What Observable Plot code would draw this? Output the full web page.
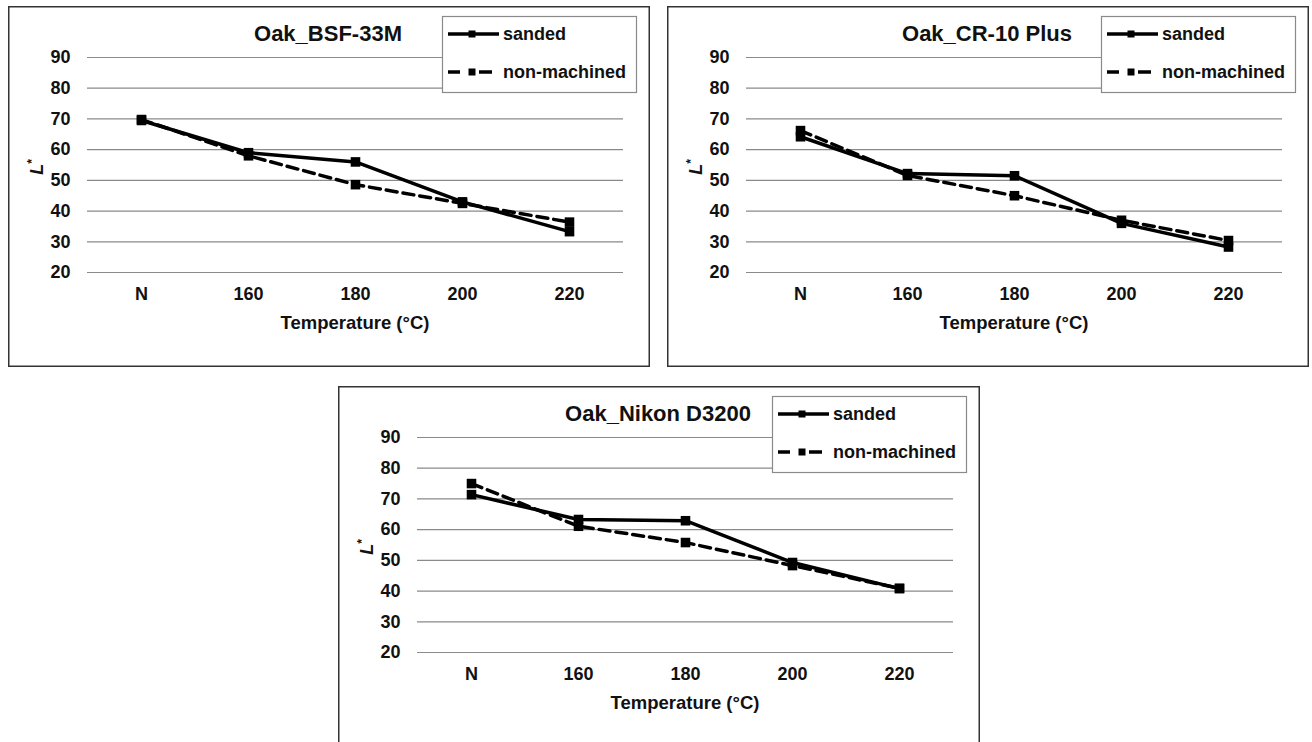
<!DOCTYPE html>
<html>
<head>
<meta charset="utf-8">
<script src="https://cdn.jsdelivr.net/npm/d3@7"></script>
<script src="https://cdn.jsdelivr.net/npm/@observablehq/plot@0.6"></script>
<style>
  body { margin: 0; background: #fff; }
  #page { position: relative; width: 1312px; height: 742px; overflow: hidden; background: #fff; }
  #page svg { position: absolute; }
</style>
</head>
<body>
<div id="page"></div>
<script>
// ---- Data ----
const categories = ["N", "160", "180", "200", "220"];
const yTicks = [20, 30, 40, 50, 60, 70, 80, 90];
const seriesNames = ["sanded", "non-machined"];

const bsfSanded = [69.5, 59.0, 56.0, 43.0, 33.3];
const bsfNon    = [69.8, 58.0, 48.6, 42.5, 36.4];

const crSanded  = [64.2, 52.2, 51.5, 36.0, 28.3];
const crNon     = [66.2, 51.6, 45.0, 37.0, 30.4];

const nikonSanded = [71.4, 63.3, 62.9, 49.3, 40.8];
const nikonNon    = [75.0, 61.1, 55.8, 48.3, 40.9];

const titles = ["Oak_BSF-33M", "Oak_CR-10 Plus", "Oak_Nikon D3200"];

// ---- Layout ----
const panels = [
  { title: titles[0], sanded: bsfSanded,   non: bsfNon,   left: 8,   top: 6 },
  { title: titles[1], sanded: crSanded,    non: crNon,    left: 667, top: 6 },
  { title: titles[2], sanded: nikonSanded, non: nikonNon, left: 338, top: 386 }
];

const FONT = "'Liberation Sans', Arial, Helvetica, sans-serif";
const W = 642, H = 361;
const page = document.getElementById("page");

for (const p of panels) {
  const data = categories.flatMap((c, i) => [
    { cat: c, value: p.sanded[i], series: seriesNames[0] },
    { cat: c, value: p.non[i], series: seriesNames[1] }
  ]);

  const svg = Plot.plot({
    width: W,
    height: H,
    marginLeft: 79,
    marginRight: 27,
    marginTop: 51,
    marginBottom: 95,
    style: { fontFamily: FONT, fontWeight: "bold", fontSize: "18px", color: "#111", background: "#fff", overflow: "visible" },
    x: { type: "point", domain: categories, padding: 0.5, label: null },
    y: { domain: [20, 90], label: null },
    marks: [
      Plot.ruleY(yTicks, { stroke: "#8a8a8a", strokeWidth: 1.2 }),
      Plot.axisX({ tickSize: 0, tickPadding: 15, fontSize: 18, fontWeight: "bold", label: null }),
      Plot.axisY({ ticks: yTicks, tickSize: 0, tickPadding: 17, fontSize: 18, fontWeight: "bold", label: null, tickFormat: d => String(d) }),
      Plot.line(data.filter(d => d.series === seriesNames[1]), { x: "cat", y: "value", stroke: "#000", strokeWidth: 3.5, strokeDasharray: "11,6" }),
      Plot.line(data.filter(d => d.series === seriesNames[0]), { x: "cat", y: "value", stroke: "#000", strokeWidth: 3.5 }),
      Plot.dot(data, { x: "cat", y: "value", symbol: "square", r: 5.4, fill: "#000", stroke: "none" })
    ]
  });

  svg.style.left = p.left + "px";
  svg.style.top = p.top + "px";

  const s = d3.select(svg);
  // panel border
  s.append("rect")
    .attr("x", 0.75).attr("y", 0.75)
    .attr("width", W - 1.5).attr("height", H - 1.5)
    .attr("fill", "none").attr("stroke", "#333").attr("stroke-width", 1.5);

  // title
  s.append("text")
    .attr("x", 320).attr("y", 27)
    .attr("text-anchor", "middle").attr("dominant-baseline", "central")
    .attr("font-size", 22).attr("font-weight", "bold").attr("fill", "#111")
    .text(p.title);

  // y label L*
  const yl = s.append("text")
    .attr("transform", "translate(29,161) rotate(-90)")
    .attr("text-anchor", "middle").attr("dominant-baseline", "central")
    .attr("font-size", 18).attr("font-weight", "bold").attr("fill", "#111");
  yl.append("tspan").attr("font-style", "italic").text("L");
  yl.append("tspan").attr("font-size", 12).attr("dy", -5).text("*");

  // x axis title
  s.append("text")
    .attr("x", 347).attr("y", 316)
    .attr("text-anchor", "middle").attr("dominant-baseline", "central")
    .attr("font-size", 18.5).attr("font-weight", "bold").attr("fill", "#111")
    .text("Temperature (°C)");

  // legend
  const lg = s.append("g").attr("text-anchor", "start");
  lg.append("rect")
    .attr("x", 434.5).attr("y", 10.5).attr("width", 194).attr("height", 76)
    .attr("fill", "#fff").attr("stroke", "#8a8a8a").attr("stroke-width", 1.2);
  // row 1: sanded
  lg.append("line").attr("x1", 440).attr("x2", 491).attr("y1", 28).attr("y2", 28)
    .attr("stroke", "#000").attr("stroke-width", 3.5);
  lg.append("rect").attr("x", 460.5).attr("y", 24.5).attr("width", 7).attr("height", 7).attr("fill", "#000");
  lg.append("text").attr("x", 495).attr("y", 28).attr("dominant-baseline", "central").attr("text-anchor", "start")
    .attr("font-size", 18).attr("font-weight", "bold").attr("fill", "#111").text(seriesNames[0]);
  // row 2: non-machined
  lg.append("line").attr("x1", 440).attr("x2", 452).attr("y1", 66).attr("y2", 66)
    .attr("stroke", "#000").attr("stroke-width", 3.5);
  lg.append("line").attr("x1", 471).attr("x2", 484).attr("y1", 66).attr("y2", 66)
    .attr("stroke", "#000").attr("stroke-width", 3.5);
  lg.append("rect").attr("x", 460.5).attr("y", 62.5).attr("width", 7).attr("height", 7).attr("fill", "#000");
  lg.append("text").attr("x", 495).attr("y", 66).attr("dominant-baseline", "central").attr("text-anchor", "start")
    .attr("font-size", 18).attr("font-weight", "bold").attr("fill", "#111").text(seriesNames[1]);

  page.appendChild(svg);
}
</script>
</body>
</html>
